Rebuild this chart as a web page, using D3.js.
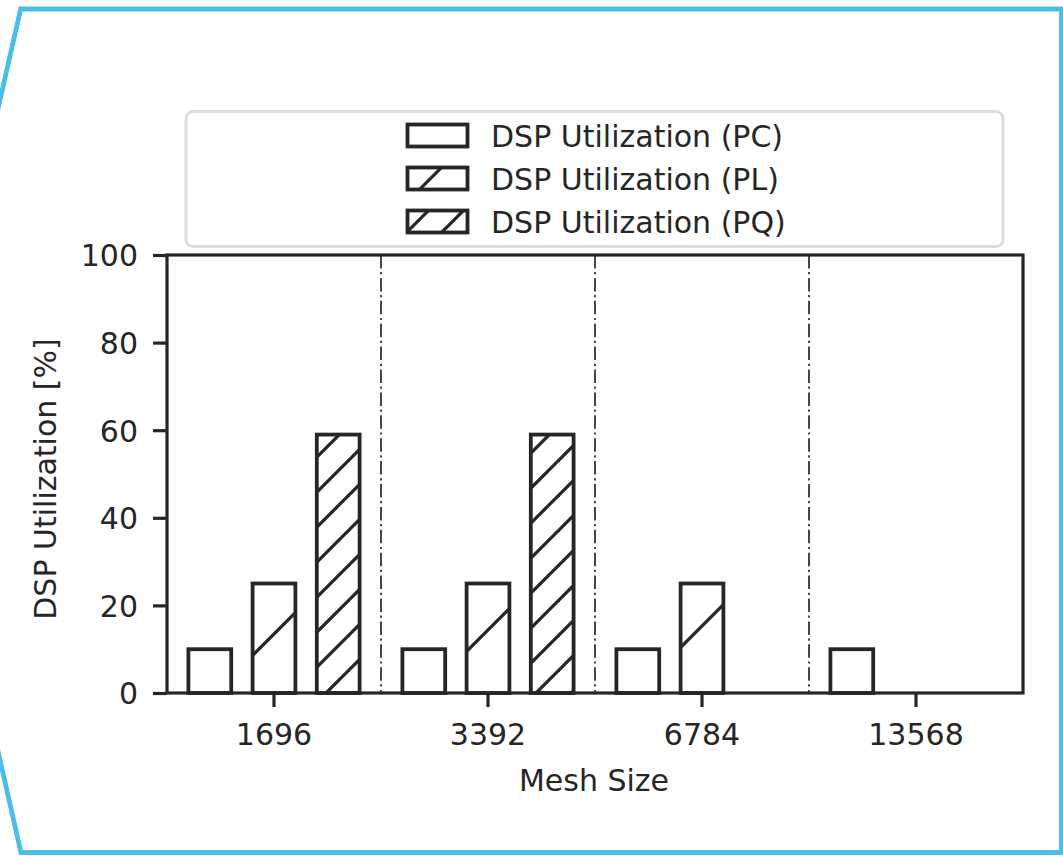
<!DOCTYPE html>
<html lang="en">
  <head>
    <meta charset="utf-8">
    <title>DSP Utilization</title>
    <script src="https://d3js.org/d3.v7.min.js"></script>
    <style>
      body { margin: 0; background: #fff; }
      text { font-family: "DejaVu Sans", sans-serif; fill: #262626; }
    </style>
  </head>
  <body>
    <div id="viz"></div>
    <script type="text/javascript">
    // data
    var meshSizes = ["1696", "3392", "6784", "13568"];
    var seriesNames = ["DSP Utilization (PC)", "DSP Utilization (PL)", "DSP Utilization (PQ)"];
    var pcValues = [10, 10, 10, 10];
    var plValues = [25, 25, 25, null];
    var pqValues = [59, 59, null, null];
    var yTicks = [0, 20, 40, 60, 80, 100];

    var w = 1063;
    var h = 857;
    var ink = "#262626";

    // plot box
    var plotL = 167, plotR = 1023, plotT = 255, plotB = 693;

    var svg = d3.select("#viz")
      .append("svg")
      .attr("width", w)
      .attr("height", h);

    var defs = svg.append("defs");

    // diagonal hatch, lines where x+y = phase (mod period)
    function hatch(id, period, phase) {
      var p = defs.append("pattern")
        .attr("id", id)
        .attr("patternUnits", "userSpaceOnUse")
        .attr("width", period)
        .attr("height", period);
      p.append("rect").attr("width", period).attr("height", period).attr("fill", "#fff");
      [-1, 0, 1, 2].forEach(function(k) {
        var c = phase + k * period;
        p.append("line")
          .attr("x1", -2).attr("y1", c + 2)
          .attr("x2", c + 2).attr("y2", -2)
          .attr("stroke", ink)
          .attr("stroke-width", 3.3);
      });
    }
    hatch("hatchPL", 105, 68);
    hatch("hatchPQ", 35, 4);
    hatch("legPL", 105, 84);
    hatch("legPQ", 35, 9);

    var fills = ["#fff", "url(#hatchPL)", "url(#hatchPQ)"];
    var legendFills = ["#fff", "url(#legPL)", "url(#legPQ)"];

    // blue frame around the figure
    svg.append("polygon")
      .attr("points", "-10,144 20.7,9 1061.5,9 1061.5,852.5 21,852.5 -10,716")
      .attr("fill", "none")
      .attr("stroke", "#4cbde5")
      .attr("stroke-width", 4.8);

    var x = d3.scaleBand()
      .domain(meshSizes)
      .range([plotL, plotR]);

    var sub = d3.scaleBand()
      .domain(seriesNames)
      .range([0, x.bandwidth()])
      .paddingInner(1 / 3)
      .paddingOuter(1 / 3);

    var y = d3.scaleLinear()
      .domain([0, 100])
      .range([plotB, plotT]);

    // bars
    var series = [pcValues, plValues, pqValues];
    series.forEach(function(vals, s) {
      svg.append("g").selectAll("rect")
        .data(vals.map(function(v, i) { return { cat: meshSizes[i], v: v }; })
          .filter(function(d) { return d.v !== null; }))
        .enter()
        .append("rect")
        .attr("x", function(d) { return x(d.cat) + sub(seriesNames[s]); })
        .attr("y", function(d) { return y(d.v); })
        .attr("width", sub.bandwidth())
        .attr("height", function(d) { return y(0) - y(d.v); })
        .attr("fill", fills[s])
        .attr("stroke", ink)
        .attr("stroke-width", 3.8);
    });

    // dash-dot separators between groups
    svg.append("g").selectAll("line")
      .data(meshSizes.slice(1))
      .enter()
      .append("line")
      .attr("x1", function(d) { return x(d); })
      .attr("x2", function(d) { return x(d); })
      .attr("y1", plotT)
      .attr("y2", plotB)
      .attr("stroke", "#333")
      .attr("stroke-width", 1.8)
      .attr("stroke-dasharray", "13.5,3.6,2.2,3.6");

    // axes
    var xAxis = svg.append("g")
      .attr("transform", "translate(0," + plotB + ")")
      .call(d3.axisBottom(x).tickSizeInner(14).tickSizeOuter(0).tickPadding(17));
    var yAxis = svg.append("g")
      .attr("transform", "translate(" + plotL + ",0)")
      .call(d3.axisLeft(y).tickValues(yTicks).tickSizeInner(14).tickSizeOuter(0).tickPadding(15));

    [xAxis, yAxis].forEach(function(a) {
      a.select(".domain").remove();
      a.selectAll(".tick line").attr("stroke", ink).attr("stroke-width", 3.2);
      a.selectAll(".tick text")
        .attr("fill", ink)
        .style("font-size", "30px")
        .style("font-family", "DejaVu Sans");
    });
    yAxis.selectAll(".tick text").attr("dy", "0.36em");

    // spines
    svg.append("rect")
      .attr("x", plotL)
      .attr("y", plotT)
      .attr("width", plotR - plotL)
      .attr("height", plotB - plotT)
      .attr("fill", "none")
      .attr("stroke", ink)
      .attr("stroke-width", 3.2);

    // axis titles
    svg.append("text")
      .attr("x", (plotL + plotR) / 2 - 1)
      .attr("y", 791)
      .attr("text-anchor", "middle")
      .style("font-size", "30px")
      .text("Mesh Size");

    svg.append("text")
      .attr("transform", "translate(56," + 479 + ") rotate(-90)")
      .attr("text-anchor", "middle")
      .style("font-size", "30px")
      .text("DSP Utilization [%]");

    // legend
    var legend = svg.append("g");
    legend.append("rect")
      .attr("x", 186)
      .attr("y", 111.5)
      .attr("width", 817)
      .attr("height", 135)
      .attr("rx", 7)
      .attr("fill", "#fff")
      .attr("stroke", "#dcdcdc")
      .attr("stroke-width", 3);

    var rowY = function(i) { return 135.5 + i * 43; };

    legend.selectAll("rect.patch")
      .data(seriesNames)
      .enter()
      .append("rect")
      .attr("class", "patch")
      .attr("x", 407.5)
      .attr("y", function(d, i) { return rowY(i) - 11; })
      .attr("width", 60)
      .attr("height", 22)
      .attr("fill", function(d, i) { return legendFills[i]; })
      .attr("stroke", ink)
      .attr("stroke-width", 3.8);

    legend.selectAll("text")
      .data(seriesNames)
      .enter()
      .append("text")
      .attr("x", 491)
      .attr("y", function(d, i) { return rowY(i) + 11; })
      .style("font-size", "30px")
      .text(function(d) { return d; });
    </script>
  </body>
</html>
